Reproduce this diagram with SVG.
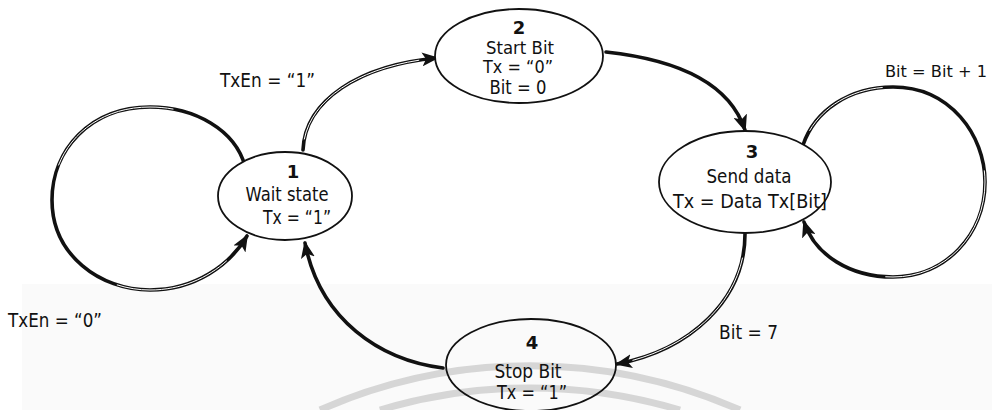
<svg xmlns="http://www.w3.org/2000/svg" width="992" height="410" viewBox="0 0 992 410">
  <style>
    text { font-family: "DejaVu Sans", "Liberation Sans", sans-serif; font-size: 19px; fill: #111; }
    .num { font-weight: bold; font-size: 18px; }
    .mid { text-anchor: middle; }
    .tight { font-size: 17px; }
    .small { font-size: 16px; }
    .state { fill: #fff; stroke: #111; stroke-width: 1.8; }
    .conn { fill: none; stroke: #111; stroke-width: 3.6; stroke-linecap: round; }
    .hollow { fill: none; stroke: #fff; stroke-width: 1; }
    .wm { fill: none; stroke: #d6d6d6; stroke-width: 7; }
  </style>
  <defs>
    <marker id="arrow" markerUnits="userSpaceOnUse" markerWidth="18" markerHeight="14" refX="15" refY="7" orient="auto">
      <path d="M0,0 L17,7 L0,14 L4,7 z" fill="#111"/>
    </marker>
  </defs>

  <!-- page background with faint watermark bands -->
  <rect width="992" height="410" fill="#fff"/>
  <rect x="22" y="284" width="970" height="126" fill="#fafafa"/>
  <path class="wm" d="M 320,410 A 520,520 0 0 1 740,410"/>
  <path class="wm" d="M 380,410 A 520,520 0 0 1 680,410"/>

  <!-- transitions -->
  <g id="connectors">
    <!-- 1 -> 1 : TxEn = "0" -->
    <path class="conn" marker-end="url(#arrow)" d="M245,166 C235,130 195,107 150,107 C90,107 52,150 52,200 C52,255 100,290 150,290 C195,290 230,265 247,236"/>
    <path class="hollow" pathLength="100" stroke-dasharray="0 18 26 28 22 100" d="M245,166 C235,130 195,107 150,107 C90,107 52,150 52,200 C52,255 100,290 150,290 C195,290 230,265 247,236"/>
    <!-- 1 -> 2 : TxEn = "1" -->
    <path class="conn" marker-end="url(#arrow)" d="M303,150 C305,100 360,65 437,58"/>
    <path class="hollow" pathLength="100" stroke-dasharray="0 6 84 100" d="M303,150 C305,100 360,65 437,58"/>
    <!-- 2 -> 3 -->
    <path class="conn" marker-end="url(#arrow)" d="M606,52 C680,60 730,85 745,130"/>
    <!-- 3 -> 3 : Bit = Bit + 1 -->
    <path class="conn" marker-end="url(#arrow)" d="M803,145 C815,110 850,87 893,87 C950,87 985,135 985,182 C985,235 945,277 893,277 C850,277 815,255 804,222"/>
    <path class="hollow" pathLength="100" stroke-dasharray="0 3 17 28 32 100" d="M803,145 C815,110 850,87 893,87 C950,87 985,135 985,182 C985,235 945,277 893,277 C850,277 815,255 804,222"/>
    <!-- 3 -> 4 : Bit = 7 -->
    <path class="conn" marker-end="url(#arrow)" d="M745,234 C745,300 690,350 617,364"/>
    <path class="hollow" pathLength="100" stroke-dasharray="0 12 80 100" d="M745,234 C745,300 690,350 617,364"/>
    <!-- 4 -> 1 -->
    <path class="conn" marker-end="url(#arrow)" d="M443,368 C380,360 320,320 305,243"/>
  </g>

  <!-- states -->
  <g id="state1">
    <ellipse class="state" cx="285" cy="196" rx="67" ry="44"/>
    <text class="num mid" x="293" y="178">1</text>
    <text class="mid" x="287" y="201" textLength="83" lengthAdjust="spacingAndGlyphs">Wait state</text>
    <text class="mid" x="297" y="224" textLength="68" lengthAdjust="spacingAndGlyphs">Tx = “1”</text>
  </g>
  <g id="state2">
    <ellipse class="state" cx="519" cy="56" rx="84" ry="47"/>
    <text class="num mid" x="519" y="34">2</text>
    <text class="mid tight" x="520" y="54" textLength="68" lengthAdjust="spacingAndGlyphs">Start Bit</text>
    <text class="mid tight" x="518" y="73" textLength="70" lengthAdjust="spacingAndGlyphs">Tx = “0”</text>
    <text class="mid" x="518" y="94" textLength="57" lengthAdjust="spacingAndGlyphs">Bit = 0</text>
  </g>
  <g id="state3">
    <ellipse class="state" cx="745" cy="182" rx="86" ry="51"/>
    <text class="num mid" x="752" y="158">3</text>
    <text class="mid" x="749" y="183" textLength="85" lengthAdjust="spacingAndGlyphs">Send data</text>
    <text class="mid" x="750" y="208" textLength="154" lengthAdjust="spacingAndGlyphs">Tx = Data Tx[Bit]</text>
  </g>
  <g id="state4">
    <ellipse class="state" cx="531" cy="365" rx="85" ry="46" fill-opacity="0"/>
    <text class="num mid" x="532" y="349">4</text>
    <text class="mid" x="528" y="378" textLength="67" lengthAdjust="spacingAndGlyphs">Stop Bit</text>
    <text class="mid" x="532" y="399" textLength="70" lengthAdjust="spacingAndGlyphs">Tx = “1”</text>
  </g>

  <!-- transition labels -->
  <g id="labels">
    <text x="220" y="87" textLength="95" lengthAdjust="spacingAndGlyphs">TxEn = “1”</text>
    <text class="small" x="885" y="77" textLength="102" lengthAdjust="spacingAndGlyphs">Bit = Bit + 1</text>
    <text x="8" y="327" textLength="94" lengthAdjust="spacingAndGlyphs">TxEn = “0”</text>
    <text x="719" y="339" textLength="59" lengthAdjust="spacingAndGlyphs">Bit = 7</text>
  </g>
</svg>
